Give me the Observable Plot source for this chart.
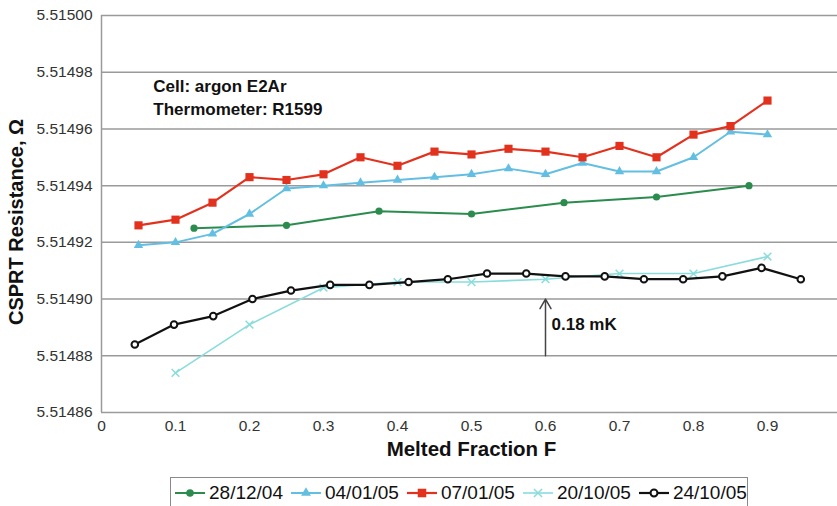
<!DOCTYPE html>
<html>
<head>
<meta charset="utf-8">
<script src="https://cdn.jsdelivr.net/npm/d3@7"></script>
<script src="https://cdn.jsdelivr.net/npm/@observablehq/plot@0.6"></script>
<style>
  html, body { margin: 0; padding: 0; background: #fff; overflow: hidden; }
  body { position: relative; width: 837px; height: 506px; font-family: "Liberation Sans", Arial, sans-serif; }
  #chart svg { display: block; }
  #legend { position: absolute; left: 170px; top: 477px; width: 578px; height: 34px; border: 1.5px solid #8a8a8a; box-sizing: border-box; display: flex; align-items: flex-start; padding: 3px 0 0 4px; font-size: 19px; color: #111; line-height: 24px; }
  .item { display: inline-flex; align-items: center; margin-right: 8px; }
  .item svg { margin-right: 4px; }
</style>
</head>
<body>
<div id="chart"></div>
<div id="legend"></div>
<script>
// ---- data ----
const seriesNames = ["28/12/04", "04/01/05", "07/01/05", "20/10/05", "24/10/05"];

const fGreen = [0.125, 0.25, 0.375, 0.5, 0.625, 0.75, 0.875];
const rGreen = [5.514925, 5.514926, 5.514931, 5.514930, 5.514934, 5.514936, 5.514940];

const fBlue = [0.05, 0.1, 0.15, 0.2, 0.25, 0.3, 0.35, 0.4, 0.45, 0.5, 0.55, 0.6, 0.65, 0.7, 0.75, 0.8, 0.85, 0.9];
const rBlue = [5.514919, 5.514920, 5.514923, 5.514930, 5.514939, 5.514940, 5.514941, 5.514942, 5.514943, 5.514944, 5.514946, 5.514944, 5.514948, 5.514945, 5.514945, 5.514950, 5.514959, 5.514958];

const fRed = [0.05, 0.1, 0.15, 0.2, 0.25, 0.3, 0.35, 0.4, 0.45, 0.5, 0.55, 0.6, 0.65, 0.7, 0.75, 0.8, 0.85, 0.9];
const rRed = [5.514926, 5.514928, 5.514934, 5.514943, 5.514942, 5.514944, 5.514950, 5.514947, 5.514952, 5.514951, 5.514953, 5.514952, 5.514950, 5.514954, 5.514950, 5.514958, 5.514961, 5.514970];

const fCyan = [0.1, 0.2, 0.3, 0.4, 0.5, 0.6, 0.7, 0.8, 0.9];
const rCyan = [5.514874, 5.514891, 5.514904, 5.514906, 5.514906, 5.514907, 5.514909, 5.514909, 5.514915];

const fBlack = [0.045, 0.098, 0.151, 0.204, 0.256, 0.309, 0.362, 0.415, 0.468, 0.521, 0.574, 0.627, 0.680, 0.733, 0.786, 0.839, 0.892, 0.945];
const rBlack = [5.514884, 5.514891, 5.514894, 5.514900, 5.514903, 5.514905, 5.514905, 5.514906, 5.514907, 5.514909, 5.514909, 5.514908, 5.514908, 5.514907, 5.514907, 5.514908, 5.514911, 5.514907];

const xTicks = [0, 0.1, 0.2, 0.3, 0.4, 0.5, 0.6, 0.7, 0.8, 0.9, 1];
const yTicks = [5.51486, 5.51488, 5.51490, 5.51492, 5.51494, 5.51496, 5.51498, 5.51500];

const noteLines = ["Cell: argon E2Ar", "Thermometer: R1599"];
const noteX = 0.07;
const noteY = [5.514975, 5.514967];
const arrowSpan = {x: 0.6, from: 5.51488, to: 5.51490, label: "0.18 mK", labelY: 5.514891};

// ---- styles ----
const styles = [
  {color: "#2b8c4e", symbol: "circle", r: 3.6, fill: "#2b8c4e", stroke: "none", sw: 0, lw: 2},
  {color: "#63bfe2", symbol: "triangle", r: 3.5, fill: "#63bfe2", stroke: "none", sw: 0, lw: 2},
  {color: "#e2321e", symbol: "square", r: 4.6, fill: "#e2321e", stroke: "none", sw: 0, lw: 2.2},
  {color: "#8adcdc", symbol: "times", r: 3.6, fill: "none", stroke: "#8adcdc", sw: 1.5, lw: 1.6},
  {color: "#111111", symbol: "circle", r: 3.3, fill: "#ffffff", stroke: "#111111", sw: 2, lw: 2.2}
];

const toRows = (fs, rs) => fs.map((f, i) => ({f, r: rs[i]}));
const data = [toRows(fGreen, rGreen), toRows(fBlue, rBlue), toRows(fRed, rRed), toRows(fCyan, rCyan), toRows(fBlack, rBlack)];

const seriesMarks = [];
data.forEach((rows, k) => {
  const s = styles[k];
  seriesMarks.push(Plot.line(rows, {x: "f", y: "r", stroke: s.color, strokeWidth: s.lw}));
  seriesMarks.push(Plot.dot(rows, {x: "f", y: "r", symbol: s.symbol, r: s.r, fill: s.fill,
    stroke: s.symbol === "times" ? s.color : s.stroke, strokeWidth: s.sw}));
});

const plot = Plot.plot({
  width: 837,
  height: 470,
  marginLeft: 101,
  marginRight: -4,
  marginTop: 15,
  marginBottom: 58,
  style: {fontFamily: "'Liberation Sans', Arial, sans-serif", fontSize: "15.5px", color: "#333", background: "#fff", overflow: "hidden"},
  x: {domain: [0, 1]},
  y: {domain: [5.51486, 5.51500]},
  marks: [
    Plot.gridY(yTicks, {stroke: "#9a9a9a", strokeOpacity: 1, strokeWidth: 1.5}),
    Plot.ruleX([0], {stroke: "#9a9a9a", strokeWidth: 1.5}),
    Plot.axisY(yTicks, {tickSize: 0, tickPadding: 9, tickFormat: d3.format(".5f"), label: null, fill: "#333"}),
    Plot.axisX(xTicks, {tickSize: 0, tickPadding: 7, tickFormat: d => String(+d.toFixed(1)), label: null, fill: "#333"}),
    Plot.text(["Melted Fraction F"], {frameAnchor: "bottom", dy: 43, fontWeight: "bold", fontSize: 20.5, fill: "#111"}),
    Plot.text(["CSPRT Resistance, \u03A9"], {frameAnchor: "left", textAnchor: "middle", dx: -85, dy: 8, rotate: -90, fontWeight: "bold", fontSize: 20, fill: "#111"}),
    Plot.text(noteLines, {x: () => noteX, y: (d, i) => noteY[i], textAnchor: "start", fontWeight: "bold", fontSize: 17, fill: "#111"}),
    Plot.arrow([arrowSpan], {x1: "x", x2: "x", y1: "from", y2: "to", stroke: "#444", strokeWidth: 1.5, headLength: 11}),
    Plot.text([arrowSpan], {x: "x", y: "labelY", text: "label", dx: 6, textAnchor: "start", fontWeight: "bold", fontSize: 17, fill: "#111"}),
    ...seriesMarks
  ]
});
document.getElementById("chart").appendChild(plot);

// ---- legend ----
const legend = document.getElementById("legend");
const symbolSvg = (s) => {
  const size = Math.PI * s.r * s.r * 1.1;
  const sym = {circle: d3.symbolCircle, triangle: d3.symbolTriangle, square: d3.symbolSquare, times: d3.symbolTimes}[s.symbol];
  const path = d3.symbol(sym, size)();
  const fill = s.fill;
  const stroke = s.symbol === "times" ? s.color : s.stroke;
  return `<svg width="30" height="14" viewBox="0 0 30 14"><line x1="0" y1="7" x2="30" y2="7" stroke="${s.color}" stroke-width="${s.lw}"/>` +
    `<path d="${path}" transform="translate(15,7)" fill="${fill}" stroke="${stroke}" stroke-width="${s.sw}"/></svg>`;
};
seriesNames.forEach((name, k) => {
  const span = document.createElement("span");
  span.className = "item";
  span.innerHTML = symbolSvg(styles[k]) + `<span>${name}</span>`;
  legend.appendChild(span);
});
</script>
</body>
</html>
